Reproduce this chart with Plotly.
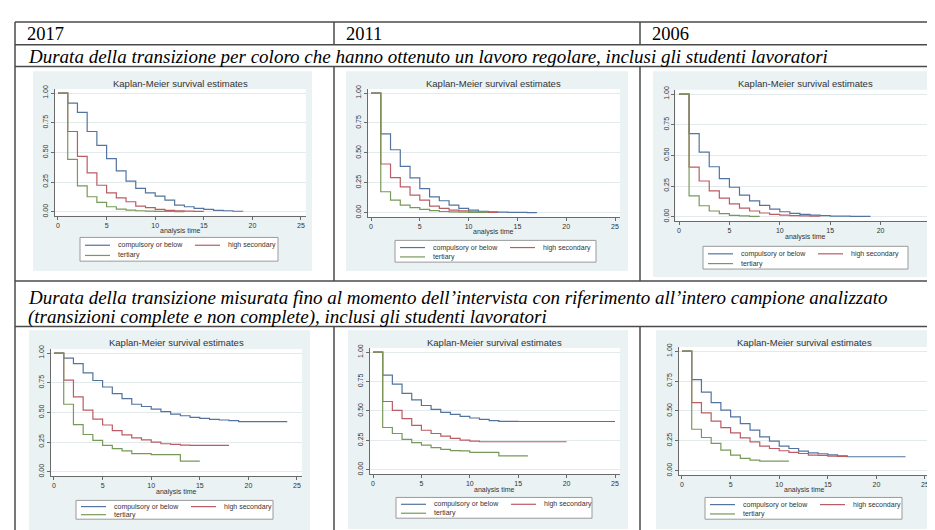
import plotly.graph_objects as go

W, H = 935, 530

# ---------------- data ----------------
year_labels = ["2017", "2011", "2006"]
row1_title = "Durata della transizione per coloro che hanno ottenuto un lavoro regolare, inclusi gli studenti lavoratori"
row2_title_a = "Durata della transizione misurata fino al momento dell\u2019intervista con riferimento all\u2019intero campione analizzato"
row2_title_b = "(transizioni complete e non complete), inclusi gli studenti lavoratori"
panel_title = "Kaplan-Meier survival estimates"
x_title = "analysis time"
series_names = ["compulsory or below", "high secondary", "tertiary"]
x_tick_vals = [0, 5, 10, 15, 20, 25]
y_tick_vals = [0, 0.25, 0.5, 0.75, 1.0]
y_tick_text = ["0.00", "0.25", "0.50", "0.75", "1.00"]

# Kaplan-Meier survival estimates at analysis time t = 0, 1, 2, ...
reg2017_compulsory = [1, 0.916, 0.838, 0.676, 0.559, 0.447, 0.344, 0.257, 0.196, 0.159, 0.131,
                      0.098, 0.056, 0.042, 0.028, 0.020, 0.011, 0.008, 0.004, 0.002]
reg2017_secondary = [1, 0.676, 0.466, 0.327, 0.223, 0.159, 0.117, 0.084, 0.047, 0.034, 0.020,
                     0.011, 0.008, 0.005, 0.003, 0.003]
reg2017_tertiary = [1, 0.441, 0.218, 0.126, 0.078, 0.042, 0.022, 0.013, 0.008, 0.005, 0.003,
                    0.002, 0.001, 0.001]

reg2011_compulsory = [1, 0.659, 0.526, 0.388, 0.291, 0.202, 0.133, 0.100, 0.064, 0.036, 0.022,
                      0.012, 0.008, 0.005, 0.003, 0.002, 0.001, 0.001]
reg2011_secondary = [1, 0.407, 0.294, 0.216, 0.147, 0.105, 0.055, 0.036, 0.022, 0.015, 0.008,
                     0.005, 0.003, 0.003]
reg2011_tertiary = [1, 0.175, 0.105, 0.064, 0.042, 0.028, 0.017, 0.010, 0.007, 0.004, 0.003,
                    0.002, 0.002]

reg2006_compulsory = [1, 0.677, 0.526, 0.407, 0.310, 0.240, 0.175, 0.129, 0.092, 0.062, 0.040,
                      0.027, 0.019, 0.013, 0.008, 0.005, 0.004, 0.003, 0.002, 0.002]
reg2006_secondary = [1, 0.404, 0.291, 0.210, 0.151, 0.105, 0.070, 0.046, 0.030, 0.019, 0.013,
                     0.008, 0.006, 0.004, 0.004]
reg2006_tertiary = [1, 0.170, 0.089, 0.046, 0.024, 0.011, 0.006, 0.003, 0.003]

all2017_compulsory = [1, 0.958, 0.911, 0.833, 0.769, 0.714, 0.658, 0.617, 0.569, 0.550, 0.528,
                      0.506, 0.486, 0.472, 0.458, 0.450, 0.442, 0.436, 0.431, 0.422, 0.422,
                      0.422, 0.422, 0.422, 0.422]
all2017_secondary = [1, 0.772, 0.631, 0.519, 0.444, 0.394, 0.347, 0.311, 0.286, 0.269, 0.250,
                     0.236, 0.231, 0.225, 0.222, 0.222, 0.222, 0.222, 0.222]
all2017_tertiary = [1, 0.569, 0.397, 0.314, 0.264, 0.222, 0.194, 0.175, 0.153, 0.153, 0.144,
                    0.144, 0.144, 0.089, 0.089, 0.089]

all2011_compulsory = [1, 0.804, 0.728, 0.650, 0.594, 0.546, 0.513, 0.487, 0.471, 0.454, 0.440,
                      0.429, 0.417, 0.412, 0.412, 0.410, 0.410, 0.410, 0.410, 0.410, 0.410,
                      0.410, 0.410, 0.410, 0.410, 0.410]
all2011_secondary = [1, 0.580, 0.504, 0.434, 0.378, 0.336, 0.308, 0.286, 0.266, 0.252, 0.244,
                     0.238, 0.238, 0.238, 0.238, 0.238, 0.238, 0.238, 0.238, 0.238, 0.238]
all2011_tertiary = [1, 0.359, 0.308, 0.258, 0.230, 0.210, 0.188, 0.174, 0.162, 0.160, 0.148,
                    0.148, 0.148, 0.118, 0.118, 0.118, 0.118]

all2006_compulsory = [1, 0.761, 0.658, 0.569, 0.506, 0.450, 0.394, 0.339, 0.283, 0.247, 0.206,
                      0.186, 0.164, 0.150, 0.142, 0.133, 0.125, 0.117, 0.117, 0.117, 0.117,
                      0.117, 0.117, 0.117]
all2006_secondary = [1, 0.569, 0.483, 0.414, 0.361, 0.317, 0.275, 0.242, 0.206, 0.186, 0.167,
                     0.153, 0.144, 0.131, 0.128, 0.122, 0.120, 0.117]
all2006_tertiary = [1, 0.347, 0.278, 0.228, 0.172, 0.131, 0.103, 0.089, 0.081, 0.081, 0.081, 0.081]

panels_data = [
    (reg2017_compulsory, reg2017_secondary, reg2017_tertiary),
    (reg2011_compulsory, reg2011_secondary, reg2011_tertiary),
    (reg2006_compulsory, reg2006_secondary, reg2006_tertiary),
    (all2017_compulsory, all2017_secondary, all2017_tertiary),
    (all2011_compulsory, all2011_secondary, all2011_tertiary),
    (all2006_compulsory, all2006_secondary, all2006_tertiary),
]

# ---------------- styling / geometry (pixels) ----------------
series_colors = ["#52749f", "#bb5c64", "#779a5a"]
panel_bg = "#eaf2f3"
grid_col = "#e2eaec"
axis_col = "#6a6a6a"
txt_col = "#333333"
table_col = "#4a4a4a"
sans = "Liberation Sans, Arial, sans-serif"
serif = "Liberation Serif, Times New Roman, serif"

panel_geo = [
    dict(bg=(25, 60, 304, 262), x0=50, x25=293, y1=82, y0=202, tt=72, xt=222, leg=(72, 228, 270, 252)),
    dict(bg=(338, 60, 620, 262), x0=363, x25=607, y1=82, y0=203, tt=72, xt=223, leg=(387, 231, 588, 253)),
    dict(bg=(645, 60, 930, 268), x0=671, x25=923, y1=83, y0=207, tt=72, xt=228, leg=(695, 237, 900, 260)),
    dict(bg=(21, 322, 302, 525), x0=46, x25=289, y1=345, y0=465, tt=334, xt=485, leg=(68, 494, 265, 513)),
    dict(bg=(340, 322, 620, 523), x0=365, x25=607, y1=344, y0=463, tt=334, xt=483, leg=(388, 491, 584, 512)),
    dict(bg=(648, 322, 928, 523), x0=674, x25=917, y1=343, y0=464, tt=334, xt=483, leg=(697, 491, 894, 513)),
]
XMIN, XMAX = -0.35, 25.5
YMIN, YMAX = -0.035, 1.035


def fx(px):
    return px / W


def fy(py):
    return 1 - py / H


fig = go.Figure()
shapes = []
annotations = []
layout_axes = {}

for i, (geo, data) in enumerate(zip(panel_geo, panels_data)):
    n = i + 1
    xa = "x" if n == 1 else f"x{n}"
    ya = "y" if n == 1 else f"y{n}"
    ppx = (geo["x25"] - geo["x0"]) / 25.0
    ppy = geo["y0"] - geo["y1"]
    left = geo["x0"] + XMIN * ppx
    right = geo["x0"] + XMAX * ppx
    top = geo["y0"] - YMAX * ppy
    bottom = geo["y0"] - YMIN * ppy

    # panel background and white plot region
    bx0, by0, bx1, by1 = geo["bg"]
    shapes.append(dict(type="rect", xref="paper", yref="paper", layer="below",
                       x0=fx(bx0), x1=fx(bx1), y0=fy(by1), y1=fy(by0),
                       fillcolor=panel_bg, line=dict(width=0)))
    shapes.append(dict(type="rect", xref="paper", yref="paper", layer="below",
                       x0=fx(left), x1=fx(right), y0=fy(bottom), y1=fy(top),
                       fillcolor="white", line=dict(width=0)))

    for s, (vals, name, col) in enumerate(zip(data, series_names, series_colors)):
        fig.add_trace(go.Scatter(
            x=list(range(len(vals))), y=vals, mode="lines", name=name,
            line=dict(color=col, width=1.2, shape="hv"),
            xaxis=xa, yaxis=ya, showlegend=False, hoverinfo="skip"))

    xkey = "xaxis" if n == 1 else f"xaxis{n}"
    ykey = "yaxis" if n == 1 else f"yaxis{n}"
    layout_axes[xkey] = dict(
        domain=[fx(left), fx(right)], range=[XMIN, XMAX], anchor=ya,
        tickvals=x_tick_vals, ticks="outside", ticklen=3, tickwidth=1, tickcolor=axis_col,
        showline=True, linecolor=axis_col, linewidth=1, showgrid=False, zeroline=False,
        tickfont=dict(family=sans, size=7, color=txt_col), fixedrange=True)
    layout_axes[ykey] = dict(
        domain=[fy(bottom), fy(top)], range=[YMIN, YMAX], anchor=xa,
        tickvals=y_tick_vals, ticktext=y_tick_text, tickangle=-90,
        ticks="outside", ticklen=3, tickwidth=1, tickcolor=axis_col,
        showline=True, linecolor=axis_col, linewidth=1,
        showgrid=True, gridcolor=grid_col, gridwidth=1, zeroline=False,
        tickfont=dict(family=sans, size=7, color=txt_col), fixedrange=True)

    # panel title and x axis title
    cx = (left + right) / 2
    annotations.append(dict(text=panel_title, x=fx(cx), y=fy(geo["tt"]), xref="paper", yref="paper",
                            xanchor="center", yanchor="middle", showarrow=False,
                            font=dict(family=sans, size=9.5, color=txt_col)))
    annotations.append(dict(text=x_title, x=fx(cx), y=fy(geo["xt"]), xref="paper", yref="paper",
                            xanchor="center", yanchor="middle", showarrow=False,
                            font=dict(family=sans, size=7, color=txt_col)))

    # legend box
    lx0, ly0, lx1, ly1 = geo["leg"]
    shapes.append(dict(type="rect", xref="paper", yref="paper", layer="above",
                       x0=fx(lx0), x1=fx(lx1), y0=fy(ly1), y1=fy(ly0),
                       fillcolor="white", line=dict(color="#9a9a9a", width=1)))
    lh = ly1 - ly0
    rows = [ly0 + 0.33 * lh, ly0 + 0.33 * lh, ly0 + 0.76 * lh]
    cols = [lx0 + 5, lx0 + 115, lx0 + 5]
    for s in range(3):
        yy = rows[s]
        xs = cols[s]
        shapes.append(dict(type="line", xref="paper", yref="paper", layer="above",
                           x0=fx(xs), x1=fx(xs + 25), y0=fy(yy), y1=fy(yy),
                           line=dict(color=series_colors[s], width=1.2)))
        annotations.append(dict(text=series_names[s], x=fx(xs + 31), y=fy(yy), xref="paper", yref="paper",
                                xanchor="left", yanchor="middle", showarrow=False,
                                font=dict(family=sans, size=7, color=txt_col)))

# ---------------- table frame ----------------
T_TOP, T_BOT, T_LEFT, T_RIGHT = 10, 528, 7, 933
H1, H2, H3, H4 = 33, 55, 272, 318
COL1, COL2 = 326, 632


def hline(y, x0=T_LEFT, x1=T_RIGHT):
    shapes.append(dict(type="line", xref="paper", yref="paper", layer="above",
                       x0=fx(x0), x1=fx(x1), y0=fy(y), y1=fy(y),
                       line=dict(color=table_col, width=1.5)))


def vline(x, y0, y1):
    shapes.append(dict(type="line", xref="paper", yref="paper", layer="above",
                       x0=fx(x), x1=fx(x), y0=fy(y0), y1=fy(y1),
                       line=dict(color=table_col, width=1.5)))


for yline in [T_TOP, H1, H2, H3, H4, T_BOT]:
    hline(yline)
vline(T_LEFT, T_TOP, T_BOT)
vline(T_RIGHT, T_TOP, T_BOT)
for xc in [COL1, COL2]:
    vline(xc, T_TOP, H1)
    vline(xc, H2, H3)
    vline(xc, H4, T_BOT)

for xt, lab in zip([17, 336, 642], year_labels):
    annotations.append(dict(text=lab, x=fx(xt), y=fy(22), xref="paper", yref="paper",
                            xanchor="left", yanchor="middle", showarrow=False,
                            font=dict(family=serif, size=18.5, color="black")))
annotations.append(dict(text=f"<i>{row1_title}</i>", x=fx(18), y=fy(45), xref="paper", yref="paper",
                        xanchor="left", yanchor="middle", showarrow=False,
                        font=dict(family=serif, size=19, color="black")))
annotations.append(dict(text=f"<i>{row2_title_a}</i>", x=fx(18), y=fy(289), xref="paper", yref="paper",
                        xanchor="left", yanchor="middle", showarrow=False,
                        font=dict(family=serif, size=19, color="black")))
annotations.append(dict(text=f"<i>{row2_title_b}</i>", x=fx(18), y=fy(308), xref="paper", yref="paper",
                        xanchor="left", yanchor="middle", showarrow=False,
                        font=dict(family=serif, size=19, color="black")))

fig.update_layout(
    width=W, height=H, autosize=False,
    margin=dict(l=0, r=0, t=0, b=0),
    paper_bgcolor="white", plot_bgcolor="white",
    showlegend=False,
    shapes=shapes, annotations=annotations,
    **layout_axes,
)

fig.write_html("out.html")
